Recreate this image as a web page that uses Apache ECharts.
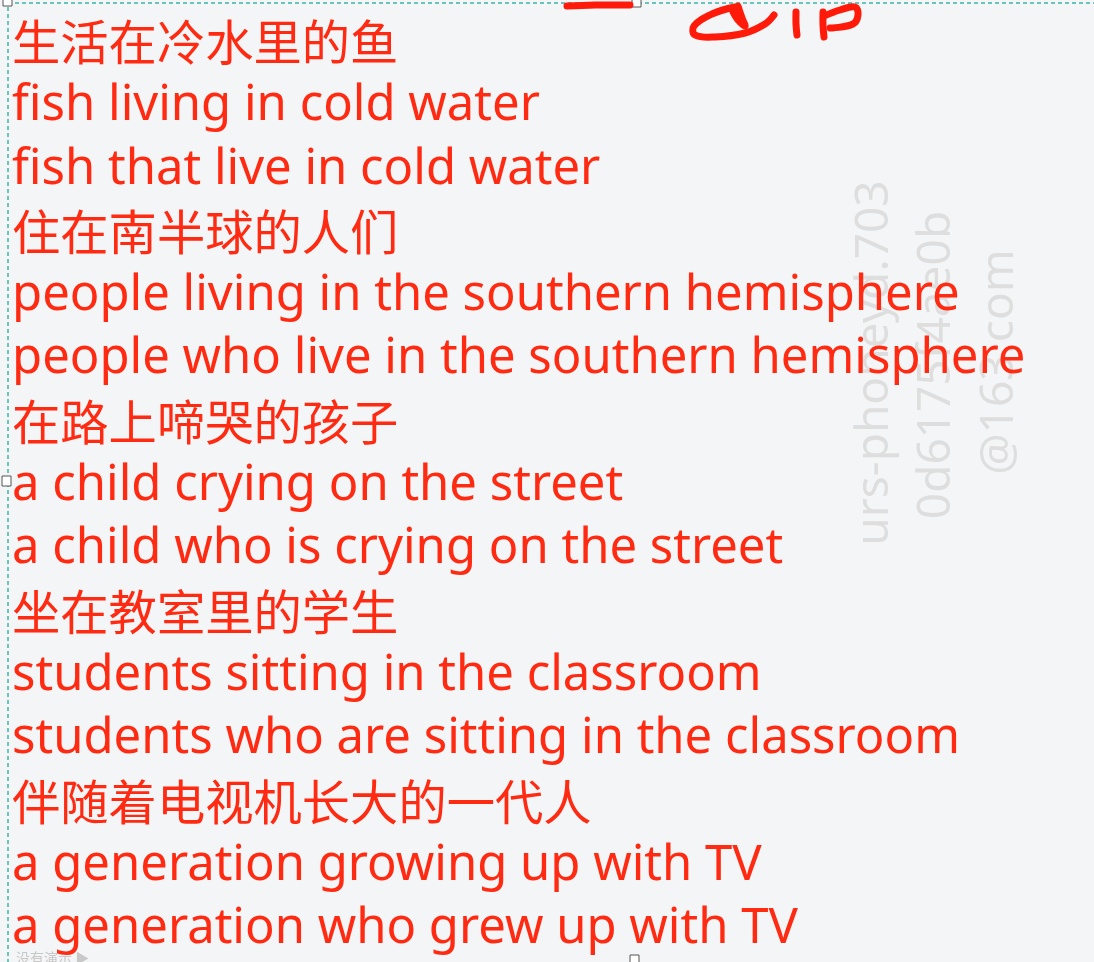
<!DOCTYPE html>
<html>
<head>
<meta charset="utf-8">
<script src="https://cdn.jsdelivr.net/npm/echarts@6/dist/echarts.min.js"></script>
<style>
  html, body { margin: 0; padding: 0; background: #f4f5f6; }
  #main { width: 1094px; height: 962px; }
</style>
</head>
<body>
<div id="main"></div>
<script>
// 每一行的文字（中文 + 两种英文说法）
var lines = [
    '生活在冷水里的鱼',
    'fish living in cold water',
    'fish that live in cold water',
    '住在南半球的人们',
    'people living in the southern hemisphere',
    'people who live in the southern hemisphere',
    '在路上啼哭的孩子',
    'a child crying on the street',
    'a child who is crying on the street',
    '坐在教室里的学生',
    'students sitting in the classroom',
    'students who are sitting in the classroom',
    '伴随着电视机长大的一代人',
    'a generation growing up with TV',
    'a generation who grew up with TV'
];
var watermark = ['urs-phoneyd.703', '0d6175f4ae0b', '@163.com'];
var footer = '没有演示 ▶';

var W = 1094, H = 962;
var left = 12, top0 = 42, pitch = 63.3;
var red = '#ff2a12';
var enFont = '"Noto Sans", "Open Sans", sans-serif';
var cnFont = '"Noto Sans CJK SC", sans-serif';

// 用最长的一行来定英文字号
var ctx = document.createElement('canvas').getContext('2d');
ctx.font = '100px ' + enFont;
var enSize = 100 * 1013 / ctx.measureText('people who live in the southern hemisphere').width;
var cnSize = 386 / 8;

function isCJK(s) { return /[\u4e00-\u9fff]/.test(s); }

var myChart = echarts.init(document.getElementById('main'), null, { renderer: 'canvas' });

var graphics = [];

// 水印
var wmX = [875, 937, 1000];
var wmY = [363, 365, 362];
watermark.forEach(function (t, i) {
    graphics.push({
        type: 'text', x: wmX[i], y: wmY[i], rotation: Math.PI / 2, z: 1,
        style: { text: t, fill: '#dedede', font: '46px ' + enFont, textAlign: 'center', textVerticalAlign: 'middle' }
    });
});

// 正文
lines.forEach(function (t, i) {
    var cjk = isCJK(t);
    graphics.push({
        type: 'text', x: left, y: top0 + i * pitch + (cjk ? 0 : 1), z: 5,
        style: {
            text: t, fill: red,
            font: (cjk ? cnSize : enSize).toFixed(1) + 'px ' + (cjk ? cnFont : enFont),
            textAlign: 'left', textVerticalAlign: 'middle'
        }
    });
});

// 虚线选框
graphics.push({ type: 'line', z: 3, shape: { x1: 8, y1: 3, x2: W, y2: 3 }, style: { stroke: '#3bb5a6', lineWidth: 1.5, lineDash: [4, 3] } });
graphics.push({ type: 'line', z: 3, shape: { x1: 8, y1: 0, x2: 8, y2: H }, style: { stroke: '#3bb5a6', lineWidth: 1.5, lineDash: [4, 3] } });
[[3, -4], [632, -3], [2, 476], [630, 955]].forEach(function (p) {
    graphics.push({ type: 'rect', z: 6, shape: { x: p[0], y: p[1], width: 9, height: 10 }, style: { fill: '#fff', stroke: '#555', lineWidth: 1 } });
});

// 手写的红色笔迹
var strokes = [
    [[567, 6], [595, 5], [630, 5]],
    [[735, 7], [712, 14], [694, 26], [695, 35], [715, 37], [745, 33], [765, 24], [774, 15]],
    [[738, 6], [742, 18], [745, 26], [738, 20], [733, 12]],
    [[796, 12], [796, 24], [797, 35]],
    [[823, 12], [823, 25], [824, 37]],
    [[824, 16], [840, 10], [855, 7], [858, 15], [853, 24], [830, 28]]
];
strokes.forEach(function (pts) {
    graphics.push({ type: 'polyline', z: 6, shape: { points: pts, smooth: 0.4 }, style: { stroke: '#ff1a0a', lineWidth: 7, lineCap: 'round', lineJoin: 'round', fill: null } });
});

// 左下角
graphics.push({ type: 'text', x: 16, y: 958, z: 2, style: { text: footer, fill: '#c8c8c8', font: '14px ' + cnFont, textVerticalAlign: 'middle' } });

var option = {
    backgroundColor: '#f4f5f6',
    animation: false,
    graphic: { elements: graphics }
};
myChart.setOption(option);
</script>
</body>
</html>
